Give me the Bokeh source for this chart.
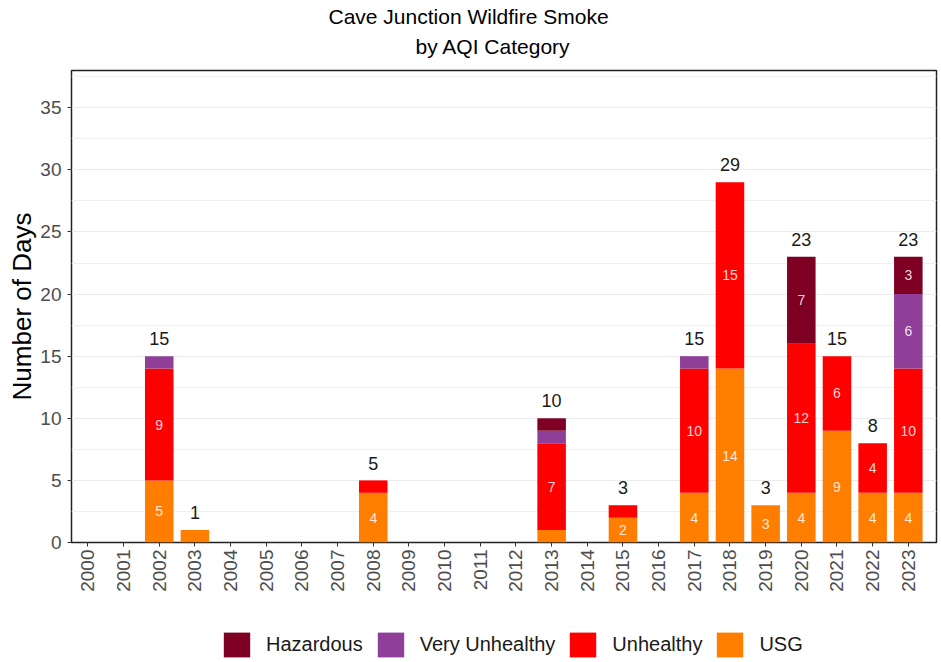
import numpy as np
from bokeh.plotting import figure
from bokeh.layouts import column
from bokeh.models import ColumnDataSource, Range1d, FixedTicker, Legend, LegendItem, Title
from bokeh.core.properties import value
from bokeh.embed import file_html
from bokeh.resources import INLINE

# ---- data ----
years = list(range(2000, 2024))
usg            = [0, 0, 5, 1, 0, 0, 0, 0, 4, 0, 0, 0, 0, 1, 0, 2, 0, 4, 14, 3, 4, 9, 4, 4]
unhealthy      = [0, 0, 9, 0, 0, 0, 0, 0, 1, 0, 0, 0, 0, 7, 0, 1, 0, 10, 15, 0, 12, 6, 4, 10]
very_unhealthy = [0, 0, 1, 0, 0, 0, 0, 0, 0, 0, 0, 0, 0, 1, 0, 0, 0, 1, 0, 0, 0, 0, 0, 6]
hazardous      = [0, 0, 0, 0, 0, 0, 0, 0, 0, 0, 0, 0, 0, 1, 0, 0, 0, 0, 0, 0, 7, 0, 0, 3]
categories = ["USG", "Unhealthy", "Very Unhealthy", "Hazardous"]
colors = ["#FF7E00", "#FF0000", "#8F3F97", "#7E0023"]
legend_order = ["Hazardous", "Very Unhealthy", "Unhealthy", "USG"]
y_ticks = [0, 5, 10, 15, 20, 25, 30, 35]

FONT = "Liberation Sans"

src = ColumnDataSource(dict(year=years, USG=usg, Unhealthy=unhealthy,
                            **{"Very Unhealthy": very_unhealthy, "Hazardous": hazardous}))

x_rng = (1999.54, 2023.79)
p = figure(width=938, height=610, x_range=Range1d(*x_rng), y_range=Range1d(0, 38),
           output_backend="svg", toolbar_location=None, title=None,
           min_border_left=71, min_border_right=2, min_border_top=70, min_border_bottom=68)

p.vbar_stack(categories, x="year", width=0.8, source=src, fill_color=colors, line_color=None)

# segment labels
series = [usg, unhealthy, very_unhealthy, hazardous]
sx, sy, st = [], [], []
base = np.zeros(len(years))
for s in series:
    arr = np.array(s, dtype=float)
    for i, v in enumerate(arr):
        if v >= 2:
            sx.append(years[i]); sy.append(base[i] + v / 2); st.append(str(int(v)))
    base = base + arr
p.text(x=sx, y=sy, text=st, text_align="center", text_baseline="middle",
       text_font=value(FONT), text_font_size="14px", text_color="white", text_alpha=0.85)

# totals
tx, ty, tt = [], [], []
for i, tot in enumerate(base):
    if tot > 0:
        tx.append(years[i]); ty.append(tot + 1.4); tt.append(str(int(tot)))
p.text(x=tx, y=ty, text=tt, text_align="center", text_baseline="middle",
       text_font=value(FONT), text_font_size="18px", text_color="#1A1A1A")

# axes & grid
p.xgrid.visible = False
p.yaxis.ticker = FixedTicker(ticks=y_ticks, minor_ticks=[t + 2.5 for t in y_ticks])
p.xaxis.ticker = FixedTicker(ticks=years)
p.xaxis.major_label_orientation = np.pi / 2
p.ygrid.grid_line_color = "#EBEBEB"
p.ygrid.grid_line_width = 1
p.ygrid.minor_grid_line_color = "#F0F0F0"
p.ygrid.minor_grid_line_width = 1
for ax in (p.xaxis, p.yaxis):
    ax.axis_line_color = None
    ax.major_tick_line_color = "#333333"
    ax.major_tick_out = 4
    ax.major_tick_in = 0
    ax.minor_tick_line_color = None
    ax.major_label_text_font = FONT
    ax.major_label_text_font_size = "19px"
    ax.major_label_text_color = "#4D4D4D"
p.xaxis.major_label_standoff = 3
p.yaxis.major_label_standoff = 6
p.yaxis.axis_label = "Number of Days"
p.yaxis.axis_label_text_font = FONT
p.yaxis.axis_label_text_font_size = "26px"
p.yaxis.axis_label_text_font_style = "normal"
p.yaxis.axis_label_text_color = "black"
p.yaxis.axis_label_standoff = 0

p.outline_line_color = "#222222"
p.outline_line_width = 1.5
p.outline_line_alpha = 1

# titles
p.add_layout(Title(text="by AQI Category", align="left", offset=344, standoff=26,
                   text_font=FONT, text_font_size="21px", text_font_style="normal",
                   text_color="black"), "above")
p.add_layout(Title(text="Cave Junction Wildfire Smoke", align="left", offset=257, standoff=-16,
                   text_font=FONT, text_font_size="21px", text_font_style="normal",
                   text_color="black"), "above")

# legend strip (separate small figure; its bars lie outside its y range)
lf = figure(width=938, height=52, x_range=Range1d(*x_rng), y_range=Range1d(100, 101),
            output_backend="svg", toolbar_location=None, title=None,
            x_axis_location=None, y_axis_location=None, min_border=0)
lf.grid.visible = False
lf.outline_line_color = None
items = []
for n in legend_order:
    c = colors[categories.index(n)]
    r = lf.vbar(x="year", top=n, width=0.8, source=src, fill_color=c, line_color=None)
    items.append(LegendItem(label=n, renderers=[r]))
legend = Legend(items=items, orientation="horizontal", location=(149, 2),
                glyph_width=33, glyph_height=31, label_text_font=FONT,
                label_text_font_size="20px", label_text_color="#1A1A1A",
                label_standoff=13, spacing=11, padding=0, margin=0,
                border_line_color=None, background_fill_alpha=0)
lf.add_layout(legend, "center")

open("out.html", "w").write(file_html(column(p, lf), INLINE))
